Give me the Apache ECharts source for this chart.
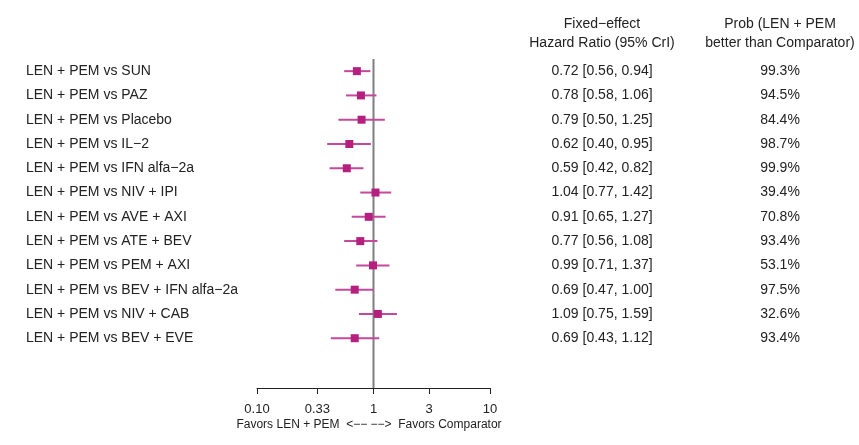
<!DOCTYPE html>
<html>
<head>
  <meta charset="UTF-8">
  <title>Forest plot</title>
  <style>
    html, body { margin: 0; padding: 0; background: #fff; }
    #chart { width: 859px; height: 445px; }
  </style>
  <script src="https://cdn.jsdelivr.net/npm/echarts@6/dist/echarts.min.js"></script>
</head>
<body>
<div id="chart"></div>
<script>
  var comparisons = [
    'LEN + PEM vs SUN',
    'LEN + PEM vs PAZ',
    'LEN + PEM vs Placebo',
    'LEN + PEM vs IL\u22122',
    'LEN + PEM vs IFN alfa\u22122a',
    'LEN + PEM vs NIV + IPI',
    'LEN + PEM vs AVE + AXI',
    'LEN + PEM vs ATE + BEV',
    'LEN + PEM vs PEM + AXI',
    'LEN + PEM vs BEV + IFN alfa\u22122a',
    'LEN + PEM vs NIV + CAB',
    'LEN + PEM vs BEV + EVE'
  ];
  var hr    = [0.72, 0.78, 0.79, 0.62, 0.59, 1.04, 0.91, 0.77, 0.99, 0.69, 1.09, 0.69];
  var lower = [0.56, 0.58, 0.50, 0.40, 0.42, 0.77, 0.65, 0.56, 0.71, 0.47, 0.75, 0.43];
  var upper = [0.94, 1.06, 1.25, 0.95, 0.82, 1.42, 1.27, 1.08, 1.37, 1.00, 1.59, 1.12];
  var probBetter = ['99.3%', '94.5%', '84.4%', '98.7%', '99.9%', '39.4%', '70.8%', '93.4%', '53.1%', '97.5%', '32.6%', '93.4%'];
  var tickValues = [0.1, 0.33, 1, 3, 10];
  var tickLabels = ['0.10', '0.33', '1', '3', '10'];

  var FONT = '"Liberation Sans", Arial, sans-serif';
  var TEXT = '#222';

  var rows = hr.map(function (v, i) {
    return [v, i, lower[i], upper[i]];
  });

  function fmt(v) { return v.toFixed(2); }

  var chart = echarts.init(document.getElementById('chart'));

  var option = {
    animation: false,
    backgroundColor: '#fff',
    grid: { left: 257, right: 369, top: 59, bottom: 57, containLabel: false },
    xAxis: {
      type: 'log',
      logBase: 10,
      min: 0.1,
      max: 10,
      position: 'bottom',
      splitLine: { show: false },
      axisLine: { show: true, onZero: false, lineStyle: { color: '#222', width: 1 } },
      axisTick: { show: true, length: 6, customValues: tickValues, lineStyle: { color: '#222' } },
      axisLabel: {
        customValues: tickValues,
        margin: 15,
        color: TEXT,
        fontSize: 13,
        fontFamily: FONT,
        formatter: function (v) {
          for (var k = 0; k < tickValues.length; k++) {
            if (Math.abs(tickValues[k] - v) < 1e-6) return tickLabels[k];
          }
          return '';
        }
      }
    },
    yAxis: {
      type: 'value',
      inverse: true,
      min: -0.5,
      max: 13.05,
      show: false
    },
    graphic: [
      { type: 'text', x: 602, y: 24, style: { text: 'Fixed\u2212effect', align: 'center', verticalAlign: 'middle', font: '14px ' + FONT, fill: TEXT } },
      { type: 'text', x: 602, y: 43, style: { text: 'Hazard Ratio (95% CrI)', align: 'center', verticalAlign: 'middle', font: '14px ' + FONT, fill: TEXT } },
      { type: 'text', x: 780, y: 24, style: { text: 'Prob (LEN + PEM', align: 'center', verticalAlign: 'middle', font: '14px ' + FONT, fill: TEXT } },
      { type: 'text', x: 780, y: 43, style: { text: 'better than Comparator)', align: 'center', verticalAlign: 'middle', font: '14px ' + FONT, fill: TEXT } },
      { type: 'text', x: 369, y: 425, style: { text: 'Favors LEN + PEM  <\u2212\u2212 \u2212\u2212>  Favors Comparator', align: 'center', verticalAlign: 'middle', font: '12px ' + FONT, fill: TEXT } }
    ],
    series: [
      {
        name: 'ref',
        type: 'line',
        data: [[1, -0.5], [1, 13.05]],
        symbol: 'none',
        lineStyle: { color: '#7f7f7f', width: 2 },
        z: 1,
        silent: true
      },
      {
        name: 'hr',
        type: 'custom',
        clip: false,
        z: 3,
        data: rows,
        encode: { x: 0, y: 1 },
        renderItem: function (params, api) {
          var i = api.value(1);
          var c = api.coord([api.value(0), i]);
          var lo = api.coord([api.value(2), i]);
          var hi = api.coord([api.value(3), i]);
          var s = 8;
          return {
            type: 'group',
            children: [
              { type: 'line', shape: { x1: lo[0], y1: c[1], x2: hi[0], y2: c[1] },
                style: { stroke: '#c4489b', lineWidth: 2 } },
              { type: 'rect', shape: { x: c[0] - s / 2, y: c[1] - s / 2, width: s, height: s },
                style: { fill: '#b5207f' } },
              { type: 'text', style: { x: 26, y: c[1], text: comparisons[i], align: 'left', verticalAlign: 'middle', font: '14px ' + FONT, fill: TEXT } },
              { type: 'text', style: { x: 602, y: c[1], text: fmt(hr[i]) + ' [' + fmt(lower[i]) + ', ' + fmt(upper[i]) + ']', align: 'center', verticalAlign: 'middle', font: '14px ' + FONT, fill: TEXT } },
              { type: 'text', style: { x: 780, y: c[1], text: probBetter[i], align: 'center', verticalAlign: 'middle', font: '14px ' + FONT, fill: TEXT } }
            ]
          };
        }
      }
    ]
  };

  chart.setOption(option);
</script>
</body>
</html>
